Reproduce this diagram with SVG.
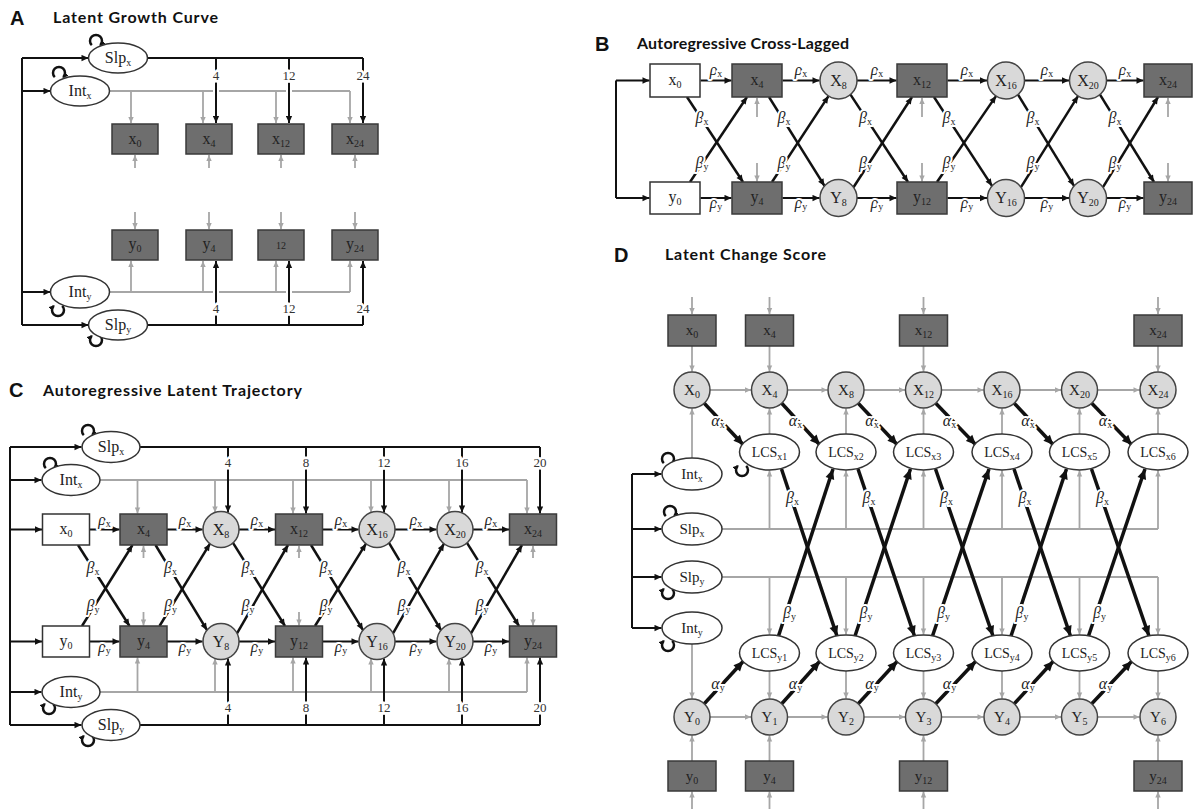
<svg xmlns="http://www.w3.org/2000/svg" width="1194" height="809" viewBox="0 0 1194 809">
<defs>
<style>
.box{fill:#6e6e6e;stroke:#3a3a3a;stroke-width:1.5}
.wbox{fill:#fff;stroke:#333;stroke-width:1.5}
.cir{fill:#d9d9d9;stroke:#444;stroke-width:1.5}
.ell{fill:#fff;stroke:#333;stroke-width:1.5}
.t{font-family:"Liberation Serif","DejaVu Serif",serif;font-size:16px;fill:#222;text-anchor:middle}
.td{font-size:15px}
.tl{font-size:14px}
.s{font-size:10px}
.blk{fill:none;stroke:#111;stroke-width:2}
.bk{fill:none;stroke:#111;stroke-width:2.5}
.thk{fill:none;stroke:#111;stroke-width:3.5}
.gry{fill:none;stroke:#a6a6a6;stroke-width:1.8}
.gap{fill:none;stroke:#fff;stroke-width:6}
.loop{fill:none;stroke:#111;stroke-width:2.5}
.mb{marker-end:url(#ab)}
.mg{marker-end:url(#ag)}
.mt{marker-end:url(#at)}
.ml{marker-end:url(#al)}
.g{font-family:"Liberation Serif","DejaVu Serif",serif;font-style:italic;font-size:16px;fill:#222;text-anchor:middle;stroke:#fff;stroke-width:4px;paint-order:stroke;stroke-linejoin:round}
.gs{font-style:normal;font-size:10px}
.n{font-family:"Liberation Serif","DejaVu Serif",serif;font-size:13px;fill:#333;text-anchor:middle;stroke:#fff;stroke-width:5px;paint-order:stroke}
.h{font-family:Lato,"Liberation Sans",sans-serif;font-weight:bold;font-size:16px;fill:#111}
.hl{font-family:"Liberation Sans",Arial,sans-serif;font-weight:bold;font-size:20px;fill:#111}
</style>
<marker id="ab" viewBox="0 0 10 10" refX="10" refY="5" markerWidth="8" markerHeight="7" markerUnits="userSpaceOnUse" orient="auto"><path d="M0,0.5L10,5L0,9.5z" fill="#111"/></marker>
<marker id="ag" viewBox="0 0 10 10" refX="10" refY="5" markerWidth="7" markerHeight="6" markerUnits="userSpaceOnUse" orient="auto"><path d="M0,0.5L10,5L0,9.5z" fill="#a6a6a6"/></marker>
<marker id="at" viewBox="0 0 10 10" refX="10" refY="5" markerWidth="11" markerHeight="10" markerUnits="userSpaceOnUse" orient="auto"><path d="M0,0.5L10,5L0,9.5z" fill="#111"/></marker>
<marker id="al" viewBox="0 0 10 10" refX="8" refY="5" markerWidth="6" markerHeight="6" markerUnits="userSpaceOnUse" orient="auto"><path d="M0,0.5L10,5L0,9.5z" fill="#111"/></marker>
</defs>
<rect width="1194" height="809" fill="#fff"/>

<g id="titles">
<text class="hl" x="10" y="25">A</text>
<text class="h" x="53" y="23" textLength="165">Latent Growth Curve</text>
<text class="hl" x="595" y="51">B</text>
<text class="h" x="637" y="49" textLength="212">Autoregressive Cross-Lagged</text>
<text class="hl" x="9" y="397">C</text>
<text class="h" x="43" y="396" textLength="259">Autoregressive Latent Trajectory</text>
<text class="hl" x="614" y="262">D</text>
<text class="h" x="665" y="260" textLength="161">Latent Change Score</text>
</g>

<!-- ================= PANEL A ================= -->
<g id="A-connectors">
<path class="blk" d="M22,58V325"/>
<path class="blk mb" d="M22,58H88.5"/>
<path class="blk mb" d="M22,91H50.5"/>
<path class="blk mb" d="M22,292H50.5"/>
<path class="blk mb" d="M22,325H88.5"/>
<path class="gry" d="M109,91H350"/>
<path class="gry mg" d="M131,91V123"/>
<path class="gry mg" d="M203,91V123"/>
<path class="gry mg" d="M276,91V123"/>
<path class="gry mg" d="M350,91V123"/>
<path class="gry mg" d="M135,168V155"/>
<path class="gry mg" d="M209,168V155"/>
<path class="gry mg" d="M281,168V155"/>
<path class="gry mg" d="M355,168V155"/>
<path class="gry mg" d="M135,212V229"/>
<path class="gry mg" d="M209,212V229"/>
<path class="gry mg" d="M281,212V229"/>
<path class="gry mg" d="M355,212V229"/>
<path class="gry" d="M109,292H350"/>
<path class="gry mg" d="M131,292V261"/>
<path class="gry mg" d="M203,292V261"/>
<path class="gry mg" d="M276,292V261"/>
<path class="gry mg" d="M350,292V261"/>
<path class="gap" d="M216,85V97M289,85V97M216,286V298M289,286V298"/>
<path class="blk" d="M147,58H363"/>
<path class="blk mb" d="M216,58V123"/>
<path class="blk mb" d="M289,58V123"/>
<path class="blk mb" d="M363,58V123"/>
<path class="blk" d="M147,325H363"/>
<path class="blk mb" d="M216,325V261"/>
<path class="blk mb" d="M289,325V261"/>
<path class="blk mb" d="M363,325V261"/>
<text class="n" x="216" y="80">4</text>
<text class="n" x="289" y="80">12</text>
<text class="n" x="363" y="80">24</text>
<text class="n" x="216" y="313">4</text>
<text class="n" x="289" y="313">12</text>
<text class="n" x="363" y="313">24</text>
<path class="loop ml" d="M91.8,45.2A6,6 0 1 1 100.2,45.2"/>
<path class="loop ml" d="M54.8,77.2A6,6 0 1 1 63.2,77.2"/>
<path class="loop ml" d="M62.2,305.8A6,6 0 1 1 53.8,305.8"/>
<path class="loop ml" d="M100.2,335.8A6,6 0 1 1 91.8,335.8"/>
</g>
<g id="A-Slpx"><ellipse class="ell" cx="118" cy="58" rx="29.5" ry="15"/><text class="t" x="118" y="63">Slp<tspan class="s" dy="3">x</tspan></text></g>
<g id="A-Intx"><ellipse class="ell" cx="80" cy="91" rx="29.5" ry="15"/><text class="t" x="80" y="96">Int<tspan class="s" dy="3">x</tspan></text></g>
<g id="A-x0"><rect class="box" x="112" y="124" width="46" height="30"/><text class="t" x="135" y="144">x<tspan class="s" dy="3">0</tspan></text></g>
<g id="A-x4"><rect class="box" x="186" y="124" width="46" height="30"/><text class="t" x="209" y="144">x<tspan class="s" dy="3">4</tspan></text></g>
<g id="A-x12"><rect class="box" x="258" y="124" width="46" height="30"/><text class="t" x="281" y="144">x<tspan class="s" dy="3">12</tspan></text></g>
<g id="A-x24"><rect class="box" x="332" y="124" width="46" height="30"/><text class="t" x="355" y="144">x<tspan class="s" dy="3">24</tspan></text></g>
<g id="A-y0"><rect class="box" x="112" y="230" width="46" height="30"/><text class="t" x="135" y="249">y<tspan class="s" dy="3">0</tspan></text></g>
<g id="A-y4"><rect class="box" x="186" y="230" width="46" height="30"/><text class="t" x="209" y="249">y<tspan class="s" dy="3">4</tspan></text></g>
<g id="A-y12"><rect class="box" x="258" y="230" width="46" height="30"/><text class="t s" x="281" y="249">12</text></g>
<g id="A-y24"><rect class="box" x="332" y="230" width="46" height="30"/><text class="t" x="355" y="249">y<tspan class="s" dy="3">24</tspan></text></g>
<g id="A-Inty"><ellipse class="ell" cx="80" cy="292" rx="29.5" ry="16"/><text class="t" x="80" y="297">Int<tspan class="s" dy="3">y</tspan></text></g>
<g id="A-Slpy"><ellipse class="ell" cx="118" cy="325" rx="29.5" ry="15"/><text class="t" x="118" y="330">Slp<tspan class="s" dy="3">y</tspan></text></g>

<!-- ================= PANEL B ================= -->
<g id="B-connectors">
<path class="blk" d="M616,80.5V198"/>
<path class="blk mb" d="M616,80.5H649.5"/>
<path class="blk mb" d="M616,198H649.5"/>
<path class="blk mb" d="M700.5,80.5H731.5"/>
<path class="blk mb" d="M782.5,80.5H819.5"/>
<path class="blk mb" d="M857,80.5H896.5"/>
<path class="blk mb" d="M947.5,80.5H987"/>
<path class="blk mb" d="M1024.5,80.5H1069"/>
<path class="blk mb" d="M1106.5,80.5H1143.5"/>
<path class="blk mb" d="M700.5,198H731.5"/>
<path class="blk mb" d="M782.5,198H819.5"/>
<path class="blk mb" d="M857,198H896.5"/>
<path class="blk mb" d="M947.5,198H987"/>
<path class="blk mb" d="M1024.5,198H1069"/>
<path class="blk mb" d="M1106.5,198H1143.5"/>
<path class="gry mg" d="M757,117V98"/>
<path class="gry mg" d="M922,117V98"/>
<path class="gry mg" d="M1168,117V98"/>
<path class="gry mg" d="M757,163V181.5"/>
<path class="gry mg" d="M922,163V181.5"/>
<path class="gry mg" d="M1168,163V181.5"/>
<path class="bk mb" d="M687,97L743,182"/>
<path class="bk mb" d="M769,97L824.5,185.9"/>
<path class="bk mb" d="M850.5,94.6L908,182"/>
<path class="bk mb" d="M934,97L992,185.9"/>
<path class="bk mb" d="M1018,94.6L1074,185.9"/>
<path class="bk mb" d="M1100,94.6L1154,182"/>
<path class="bk mb" d="M690,182L747,97"/>
<path class="bk mb" d="M772,182L828.5,96.1"/>
<path class="bk mb" d="M853.5,187.2L912,97"/>
<path class="bk mb" d="M937,182L996,96.1"/>
<path class="bk mb" d="M1021,187.2L1078,96.1"/>
<path class="bk mb" d="M1103,187.2L1158,97"/>
<text class="g" x="716" y="75">ρ<tspan class="gs" dy="2">x</tspan></text>
<text class="g" x="801" y="75">ρ<tspan class="gs" dy="2">x</tspan></text>
<text class="g" x="877" y="75">ρ<tspan class="gs" dy="2">x</tspan></text>
<text class="g" x="967" y="75">ρ<tspan class="gs" dy="2">x</tspan></text>
<text class="g" x="1047" y="75">ρ<tspan class="gs" dy="2">x</tspan></text>
<text class="g" x="1125" y="75">ρ<tspan class="gs" dy="2">x</tspan></text>
<text class="g" x="716" y="208">ρ<tspan class="gs" dy="2">y</tspan></text>
<text class="g" x="801" y="208">ρ<tspan class="gs" dy="2">y</tspan></text>
<text class="g" x="877" y="208">ρ<tspan class="gs" dy="2">y</tspan></text>
<text class="g" x="967" y="208">ρ<tspan class="gs" dy="2">y</tspan></text>
<text class="g" x="1047" y="208">ρ<tspan class="gs" dy="2">y</tspan></text>
<text class="g" x="1125" y="208">ρ<tspan class="gs" dy="2">y</tspan></text>
<text class="g" x="702" y="123">β<tspan class="gs" dy="2">x</tspan></text>
<text class="g" x="784" y="123">β<tspan class="gs" dy="2">x</tspan></text>
<text class="g" x="865.5" y="123">β<tspan class="gs" dy="2">x</tspan></text>
<text class="g" x="949" y="123">β<tspan class="gs" dy="2">x</tspan></text>
<text class="g" x="1033" y="123">β<tspan class="gs" dy="2">x</tspan></text>
<text class="g" x="1115" y="123">β<tspan class="gs" dy="2">x</tspan></text>
<text class="g" x="702" y="168">β<tspan class="gs" dy="2">y</tspan></text>
<text class="g" x="784" y="168">β<tspan class="gs" dy="2">y</tspan></text>
<text class="g" x="865.5" y="168">β<tspan class="gs" dy="2">y</tspan></text>
<text class="g" x="949" y="168">β<tspan class="gs" dy="2">y</tspan></text>
<text class="g" x="1033" y="168">β<tspan class="gs" dy="2">y</tspan></text>
<text class="g" x="1115" y="168">β<tspan class="gs" dy="2">y</tspan></text>
</g>
<g id="B-x0"><rect class="wbox" x="650" y="64" width="50" height="33"/><text class="t" x="675" y="85">x<tspan class="s" dy="3">0</tspan></text></g>
<g id="B-x4"><rect class="box" x="732" y="64" width="50" height="33"/><text class="t" x="757" y="85">x<tspan class="s" dy="3">4</tspan></text></g>
<g id="B-X8"><circle class="cir" cx="838.5" cy="80.5" r="18.5"/><text class="t" x="838.5" y="86">X<tspan class="s" dy="3">8</tspan></text></g>
<g id="B-x12"><rect class="box" x="897" y="64" width="50" height="33"/><text class="t" x="922" y="85">x<tspan class="s" dy="3">12</tspan></text></g>
<g id="B-X16"><circle class="cir" cx="1006" cy="80.5" r="18.5"/><text class="t" x="1006" y="86">X<tspan class="s" dy="3">16</tspan></text></g>
<g id="B-X20"><circle class="cir" cx="1088" cy="80.5" r="18.5"/><text class="t" x="1088" y="86">X<tspan class="s" dy="3">20</tspan></text></g>
<g id="B-x24"><rect class="box" x="1144" y="64" width="48" height="33"/><text class="t" x="1168" y="85">x<tspan class="s" dy="3">24</tspan></text></g>
<g id="B-y0"><rect class="wbox" x="650" y="182" width="50" height="32"/><text class="t" x="675" y="202">y<tspan class="s" dy="3">0</tspan></text></g>
<g id="B-y4"><rect class="box" x="732" y="182" width="50" height="32"/><text class="t" x="757" y="202">y<tspan class="s" dy="3">4</tspan></text></g>
<g id="B-Y8"><circle class="cir" cx="838.5" cy="198" r="18.5"/><text class="t" x="838.5" y="203">Y<tspan class="s" dy="3">8</tspan></text></g>
<g id="B-y12"><rect class="box" x="897" y="182" width="50" height="32"/><text class="t" x="922" y="202">y<tspan class="s" dy="3">12</tspan></text></g>
<g id="B-Y16"><circle class="cir" cx="1006" cy="198" r="18.5"/><text class="t" x="1006" y="203">Y<tspan class="s" dy="3">16</tspan></text></g>
<g id="B-Y20"><circle class="cir" cx="1088" cy="198" r="18.5"/><text class="t" x="1088" y="203">Y<tspan class="s" dy="3">20</tspan></text></g>
<g id="B-y24"><rect class="box" x="1144" y="182" width="48" height="32"/><text class="t" x="1168" y="202">y<tspan class="s" dy="3">24</tspan></text></g>

<!-- ================= PANEL C ================= -->
<g id="C-connectors">
<path class="blk" d="M10,447V725"/>
<path class="blk mb" d="M10,447H81.5"/>
<path class="blk mb" d="M10,480H41.5"/>
<path class="blk mb" d="M10,529.5H42"/>
<path class="blk mb" d="M10,641.5H42"/>
<path class="blk mb" d="M10,692H41.5"/>
<path class="blk mb" d="M10,725H81.5"/>
<path class="gry" d="M100,480H527"/>
<path class="gry mg" d="M137.5,480V513.5"/>
<path class="gry mg" d="M215,480V512.5"/>
<path class="gry mg" d="M293,480V513.5"/>
<path class="gry mg" d="M371,480V512.5"/>
<path class="gry mg" d="M449,480V512.5"/>
<path class="gry mg" d="M527,480V513.5"/>
<path class="gry" d="M100,692H527"/>
<path class="gry mg" d="M137.5,692V657.5"/>
<path class="gry mg" d="M215,692V658.5"/>
<path class="gry mg" d="M293,692V657.5"/>
<path class="gry mg" d="M371,692V658.5"/>
<path class="gry mg" d="M449,692V658.5"/>
<path class="gry mg" d="M527,692V657.5"/>
<path class="gry mg" d="M143.5,558V546"/>
<path class="gry mg" d="M299,558V546"/>
<path class="gry mg" d="M533,558V546"/>
<path class="gry mg" d="M143.5,612V625.5"/>
<path class="gry mg" d="M299,612V625.5"/>
<path class="gry mg" d="M533,612V625.5"/>
<path class="blk" d="M140,447H540"/>
<path class="blk mb" d="M228,447V512.5"/>
<path class="blk mb" d="M306,447V513.5"/>
<path class="blk mb" d="M384,447V512.5"/>
<path class="blk mb" d="M462,447V512.5"/>
<path class="blk mb" d="M540,447V513.5"/>
<path class="blk" d="M140,725H540"/>
<path class="blk mb" d="M228,725V658.5"/>
<path class="blk mb" d="M306,725V657.5"/>
<path class="blk mb" d="M384,725V658.5"/>
<path class="blk mb" d="M462,725V658.5"/>
<path class="blk mb" d="M540,725V657.5"/>
<text class="n" x="228" y="467">4</text>
<text class="n" x="306" y="467">8</text>
<text class="n" x="384" y="467">12</text>
<text class="n" x="462" y="467">16</text>
<text class="n" x="540" y="467">20</text>
<text class="n" x="228" y="712">4</text>
<text class="n" x="306" y="712">8</text>
<text class="n" x="384" y="712">12</text>
<text class="n" x="462" y="712">16</text>
<text class="n" x="540" y="712">20</text>
<path class="blk mb" d="M89.5,529.5H119.5"/>
<path class="blk mb" d="M167,529.5H202.5"/>
<path class="blk mb" d="M239,529.5H275"/>
<path class="blk mb" d="M322.5,529.5H358.5"/>
<path class="blk mb" d="M395,529.5H436.5"/>
<path class="blk mb" d="M473,529.5H509"/>
<path class="blk mb" d="M89.5,641.5H119.5"/>
<path class="blk mb" d="M167,641.5H202.5"/>
<path class="blk mb" d="M239,641.5H275"/>
<path class="blk mb" d="M322.5,641.5H358.5"/>
<path class="blk mb" d="M395,641.5H436.5"/>
<path class="blk mb" d="M473,641.5H509"/>
<path class="bk mb" d="M78,545L129.5,626"/>
<path class="bk mb" d="M155.5,545L207,630.2"/>
<path class="bk mb" d="M233,542.9L285,626"/>
<path class="bk mb" d="M311,545L363,630.2"/>
<path class="bk mb" d="M389,542.9L441,630.2"/>
<path class="bk mb" d="M467,542.9L519,626"/>
<path class="bk mb" d="M82,626L132.5,545"/>
<path class="bk mb" d="M159.5,626L210,543.7"/>
<path class="bk mb" d="M237,633.3L288,545"/>
<path class="bk mb" d="M315,626L366,543.7"/>
<path class="bk mb" d="M393,633.3L444,543.7"/>
<path class="bk mb" d="M471,633.3L522,545"/>
<text class="g" x="104.5" y="525">ρ<tspan class="gs" dy="2">x</tspan></text>
<text class="g" x="185" y="525">ρ<tspan class="gs" dy="2">x</tspan></text>
<text class="g" x="257" y="525">ρ<tspan class="gs" dy="2">x</tspan></text>
<text class="g" x="341" y="525">ρ<tspan class="gs" dy="2">x</tspan></text>
<text class="g" x="416" y="525">ρ<tspan class="gs" dy="2">x</tspan></text>
<text class="g" x="491" y="525">ρ<tspan class="gs" dy="2">x</tspan></text>
<text class="g" x="104.5" y="652">ρ<tspan class="gs" dy="2">y</tspan></text>
<text class="g" x="185" y="652">ρ<tspan class="gs" dy="2">y</tspan></text>
<text class="g" x="257" y="652">ρ<tspan class="gs" dy="2">y</tspan></text>
<text class="g" x="341" y="652">ρ<tspan class="gs" dy="2">y</tspan></text>
<text class="g" x="416" y="652">ρ<tspan class="gs" dy="2">y</tspan></text>
<text class="g" x="491" y="652">ρ<tspan class="gs" dy="2">y</tspan></text>
<text class="g" x="93" y="573">β<tspan class="gs" dy="2">x</tspan></text>
<text class="g" x="170.5" y="573">β<tspan class="gs" dy="2">x</tspan></text>
<text class="g" x="248" y="573">β<tspan class="gs" dy="2">x</tspan></text>
<text class="g" x="326" y="573">β<tspan class="gs" dy="2">x</tspan></text>
<text class="g" x="404" y="573">β<tspan class="gs" dy="2">x</tspan></text>
<text class="g" x="482" y="573">β<tspan class="gs" dy="2">x</tspan></text>
<text class="g" x="93" y="611">β<tspan class="gs" dy="2">y</tspan></text>
<text class="g" x="170.5" y="611">β<tspan class="gs" dy="2">y</tspan></text>
<text class="g" x="248" y="611">β<tspan class="gs" dy="2">y</tspan></text>
<text class="g" x="326" y="611">β<tspan class="gs" dy="2">y</tspan></text>
<text class="g" x="404" y="611">β<tspan class="gs" dy="2">y</tspan></text>
<text class="g" x="482" y="611">β<tspan class="gs" dy="2">y</tspan></text>
<path class="loop ml" d="M83.8,435.2A6,6 0 1 1 92.2,435.2"/>
<path class="loop ml" d="M45.8,468.2A6,6 0 1 1 54.2,468.2"/>
<path class="loop ml" d="M53.2,703.8A6,6 0 1 1 44.8,703.8"/>
<path class="loop ml" d="M92.2,735.8A6,6 0 1 1 83.8,735.8"/>
</g>
<g id="C-Slpx"><ellipse class="ell" cx="111" cy="447" rx="29" ry="15.5"/><text class="t" x="111" y="452">Slp<tspan class="s" dy="3">x</tspan></text></g>
<g id="C-Intx"><ellipse class="ell" cx="71" cy="480" rx="29" ry="15.5"/><text class="t" x="71" y="485">Int<tspan class="s" dy="3">x</tspan></text></g>
<g id="C-x0"><rect class="wbox" x="42.5" y="514" width="47" height="31"/><text class="t" x="66" y="534">x<tspan class="s" dy="3">0</tspan></text></g>
<g id="C-x4"><rect class="box" x="120" y="514" width="47" height="31"/><text class="t" x="143.5" y="534">x<tspan class="s" dy="3">4</tspan></text></g>
<g id="C-X8"><circle class="cir" cx="221" cy="529.5" r="18"/><text class="t" x="221" y="535">X<tspan class="s" dy="3">8</tspan></text></g>
<g id="C-x12"><rect class="box" x="275.5" y="514" width="47" height="31"/><text class="t" x="299" y="534">x<tspan class="s" dy="3">12</tspan></text></g>
<g id="C-X16"><circle class="cir" cx="377" cy="529.5" r="18"/><text class="t" x="377" y="535">X<tspan class="s" dy="3">16</tspan></text></g>
<g id="C-X20"><circle class="cir" cx="455" cy="529.5" r="18"/><text class="t" x="455" y="535">X<tspan class="s" dy="3">20</tspan></text></g>
<g id="C-x24"><rect class="box" x="509.5" y="514" width="47" height="31"/><text class="t" x="533" y="534">x<tspan class="s" dy="3">24</tspan></text></g>
<g id="C-y0"><rect class="wbox" x="42.5" y="626" width="47" height="31"/><text class="t" x="66" y="646">y<tspan class="s" dy="3">0</tspan></text></g>
<g id="C-y4"><rect class="box" x="120" y="626" width="47" height="31"/><text class="t" x="143.5" y="646">y<tspan class="s" dy="3">4</tspan></text></g>
<g id="C-Y8"><circle class="cir" cx="221" cy="641.5" r="18"/><text class="t" x="221" y="647">Y<tspan class="s" dy="3">8</tspan></text></g>
<g id="C-y12"><rect class="box" x="275.5" y="626" width="47" height="31"/><text class="t" x="299" y="646">y<tspan class="s" dy="3">12</tspan></text></g>
<g id="C-Y16"><circle class="cir" cx="377" cy="641.5" r="18"/><text class="t" x="377" y="647">Y<tspan class="s" dy="3">16</tspan></text></g>
<g id="C-Y20"><circle class="cir" cx="455" cy="641.5" r="18"/><text class="t" x="455" y="647">Y<tspan class="s" dy="3">20</tspan></text></g>
<g id="C-y24"><rect class="box" x="509.5" y="626" width="47" height="31"/><text class="t" x="533" y="646">y<tspan class="s" dy="3">24</tspan></text></g>
<g id="C-Inty"><ellipse class="ell" cx="71" cy="692" rx="29" ry="15.5"/><text class="t" x="71" y="697">Int<tspan class="s" dy="3">y</tspan></text></g>
<g id="C-Slpy"><ellipse class="ell" cx="111" cy="725" rx="29" ry="15.5"/><text class="t" x="111" y="730">Slp<tspan class="s" dy="3">y</tspan></text></g>

<!-- ================= PANEL D ================= -->
<g id="D-connectors">
<path class="gry mg" d="M692,297V314"/>
<path class="gry mg" d="M769.5,297V314"/>
<path class="gry mg" d="M923.5,297V314"/>
<path class="gry mg" d="M1158,297V314"/>
<path class="gry mg" d="M692,346V371.5"/>
<path class="gry mg" d="M769.5,346V371.5"/>
<path class="gry mg" d="M923.5,346V371.5"/>
<path class="gry mg" d="M1158,346V371.5"/>
<path class="gry mg" d="M710,390H751"/>
<path class="gry mg" d="M787.5,390H827.5"/>
<path class="gry mg" d="M864,390H905"/>
<path class="gry mg" d="M941.5,390H983.5"/>
<path class="gry mg" d="M1020,390H1061"/>
<path class="gry mg" d="M1097.5,390H1139.5"/>
<path class="gry mg" d="M692,458V408.5"/>
<path class="gry mg" d="M769.5,434V408.5"/>
<path class="gry mg" d="M846,434V408.5"/>
<path class="gry mg" d="M923.5,434V408.5"/>
<path class="gry mg" d="M1002,434V408.5"/>
<path class="gry mg" d="M1079.5,434V408.5"/>
<path class="gry mg" d="M1158,434V408.5"/>
<path class="gry" d="M722,529H1158"/>
<path class="gry mg" d="M769.5,529V470.5"/>
<path class="gry mg" d="M846,529V470.5"/>
<path class="gry mg" d="M923.5,529V470.5"/>
<path class="gry mg" d="M1002,529V470.5"/>
<path class="gry mg" d="M1079.5,529V470.5"/>
<path class="gry mg" d="M1158,529V470.5"/>
<path class="gry" d="M722,577H1158"/>
<path class="gry mg" d="M769.5,577V634.5"/>
<path class="gry mg" d="M846,577V634.5"/>
<path class="gry mg" d="M923.5,577V634.5"/>
<path class="gry mg" d="M1002,577V634.5"/>
<path class="gry mg" d="M1079.5,577V634.5"/>
<path class="gry mg" d="M1158,577V634.5"/>
<path class="gry mg" d="M692,644V698.5"/>
<path class="gry mg" d="M769.5,671V698.5"/>
<path class="gry mg" d="M846,671V698.5"/>
<path class="gry mg" d="M923.5,671V698.5"/>
<path class="gry mg" d="M1002,671V698.5"/>
<path class="gry mg" d="M1079.5,671V698.5"/>
<path class="gry mg" d="M1158,671V698.5"/>
<path class="gry mg" d="M710,717H751"/>
<path class="gry mg" d="M787.5,717H827.5"/>
<path class="gry mg" d="M864,717H905"/>
<path class="gry mg" d="M941.5,717H983.5"/>
<path class="gry mg" d="M1020,717H1061"/>
<path class="gry mg" d="M1097.5,717H1139.5"/>
<path class="gry mg" d="M692,761V735.5"/>
<path class="gry mg" d="M769.5,761V735.5"/>
<path class="gry mg" d="M923.5,761V735.5"/>
<path class="gry mg" d="M1158,761V735.5"/>
<path class="gry mg" d="M692,809V791.5"/>
<path class="gry mg" d="M769.5,809V791.5"/>
<path class="gry mg" d="M923.5,809V791.5"/>
<path class="gry mg" d="M1158,809V791.5"/>
<path class="blk" d="M632,474V628"/>
<path class="blk mb" d="M632,474H661.5"/>
<path class="blk mb" d="M632,529H661.5"/>
<path class="blk mb" d="M632,577H661.5"/>
<path class="blk mb" d="M632,628H661.5"/>
<path class="thk mt" d="M704,403L743.5,445"/>
<path class="thk mt" d="M781.5,403L820,445"/>
<path class="thk mt" d="M858,403L897.5,445"/>
<path class="thk mt" d="M935.5,403L976,445"/>
<path class="thk mt" d="M1014,403L1053.5,445"/>
<path class="thk mt" d="M1091.5,403L1132,445"/>
<path class="thk mt" d="M704,704L743.5,661"/>
<path class="thk mt" d="M781.5,704L820,661"/>
<path class="thk mt" d="M858,704L897.5,661"/>
<path class="thk mt" d="M935.5,704L976,661"/>
<path class="thk mt" d="M1014,704L1053.5,661"/>
<path class="thk mt" d="M1091.5,704L1132,661"/>
<path class="thk mt" d="M781.5,469L837,636"/>
<path class="thk mt" d="M858,469L914.5,636"/>
<path class="thk mt" d="M935.5,469L993,636"/>
<path class="thk mt" d="M1014,469L1070.5,636"/>
<path class="thk mt" d="M1091.5,469L1149,636"/>
<path class="thk mt" d="M778.5,636L833,469"/>
<path class="thk mt" d="M855,636L910.5,469"/>
<path class="thk mt" d="M932.5,636L989,469"/>
<path class="thk mt" d="M1011,636L1066.5,469"/>
<path class="thk mt" d="M1088.5,636L1145,469"/>
<text class="g" x="718" y="426">α<tspan class="gs" dy="2">x</tspan></text>
<text class="g" x="795.5" y="426">α<tspan class="gs" dy="2">x</tspan></text>
<text class="g" x="872" y="426">α<tspan class="gs" dy="2">x</tspan></text>
<text class="g" x="949.5" y="426">α<tspan class="gs" dy="2">x</tspan></text>
<text class="g" x="1028" y="426">α<tspan class="gs" dy="2">x</tspan></text>
<text class="g" x="1105.5" y="426">α<tspan class="gs" dy="2">x</tspan></text>
<text class="g" x="718" y="689">α<tspan class="gs" dy="2">y</tspan></text>
<text class="g" x="795.5" y="689">α<tspan class="gs" dy="2">y</tspan></text>
<text class="g" x="872" y="689">α<tspan class="gs" dy="2">y</tspan></text>
<text class="g" x="949.5" y="689">α<tspan class="gs" dy="2">y</tspan></text>
<text class="g" x="1028" y="689">α<tspan class="gs" dy="2">y</tspan></text>
<text class="g" x="1105.5" y="689">α<tspan class="gs" dy="2">y</tspan></text>
<text class="g" x="792.5" y="503">β<tspan class="gs" dy="2">x</tspan></text>
<text class="g" x="869" y="503">β<tspan class="gs" dy="2">x</tspan></text>
<text class="g" x="946.5" y="503">β<tspan class="gs" dy="2">x</tspan></text>
<text class="g" x="1025" y="503">β<tspan class="gs" dy="2">x</tspan></text>
<text class="g" x="1102.5" y="503">β<tspan class="gs" dy="2">x</tspan></text>
<text class="g" x="789.5" y="618">β<tspan class="gs" dy="2">y</tspan></text>
<text class="g" x="866" y="618">β<tspan class="gs" dy="2">y</tspan></text>
<text class="g" x="943.5" y="618">β<tspan class="gs" dy="2">y</tspan></text>
<text class="g" x="1022" y="618">β<tspan class="gs" dy="2">y</tspan></text>
<text class="g" x="1099.5" y="618">β<tspan class="gs" dy="2">y</tspan></text>
<path class="loop ml" d="M663.8,463.2A6,6 0 1 1 672.2,463.2"/>
<path class="loop ml" d="M665.8,516.2A6,6 0 1 1 674.2,516.2"/>
<path class="loop ml" d="M672.2,588.8A6,6 0 1 1 663.8,588.8"/>
<path class="loop ml" d="M672.2,640.8A6,6 0 1 1 663.8,640.8"/>
<path class="loop ml" d="M746.2,465.8A6,6 0 1 1 737.8,465.8"/>
</g>
<g id="D-x0"><rect class="box" x="668" y="315" width="48" height="31"/><text class="t td" x="692" y="335">x<tspan class="s" dy="3">0</tspan></text></g>
<g id="D-x4"><rect class="box" x="745.5" y="315" width="48" height="31"/><text class="t td" x="769.5" y="335">x<tspan class="s" dy="3">4</tspan></text></g>
<g id="D-x12"><rect class="box" x="899.5" y="315" width="48" height="31"/><text class="t td" x="923.5" y="335">x<tspan class="s" dy="3">12</tspan></text></g>
<g id="D-x24"><rect class="box" x="1134" y="315" width="48" height="31"/><text class="t td" x="1158" y="335">x<tspan class="s" dy="3">24</tspan></text></g>
<g id="D-X0"><circle class="cir" cx="692" cy="390" r="18"/><text class="t td" x="692" y="395">X<tspan class="s" dy="3">0</tspan></text></g>
<g id="D-X4"><circle class="cir" cx="769.5" cy="390" r="18"/><text class="t td" x="769.5" y="395">X<tspan class="s" dy="3">4</tspan></text></g>
<g id="D-X8"><circle class="cir" cx="846" cy="390" r="18"/><text class="t td" x="846" y="395">X<tspan class="s" dy="3">8</tspan></text></g>
<g id="D-X12"><circle class="cir" cx="923.5" cy="390" r="18"/><text class="t td" x="923.5" y="395">X<tspan class="s" dy="3">12</tspan></text></g>
<g id="D-X16"><circle class="cir" cx="1002" cy="390" r="18"/><text class="t td" x="1002" y="395">X<tspan class="s" dy="3">16</tspan></text></g>
<g id="D-X20"><circle class="cir" cx="1079.5" cy="390" r="18"/><text class="t td" x="1079.5" y="395">X<tspan class="s" dy="3">20</tspan></text></g>
<g id="D-X24"><circle class="cir" cx="1158" cy="390" r="18"/><text class="t td" x="1158" y="395">X<tspan class="s" dy="3">24</tspan></text></g>
<g id="D-LCSx1"><ellipse class="ell" cx="769.5" cy="452" rx="30" ry="18"/><text class="t tl" x="769.5" y="457">LCS<tspan class="s" dy="3">x1</tspan></text></g>
<g id="D-LCSx2"><ellipse class="ell" cx="846" cy="452" rx="30" ry="18"/><text class="t tl" x="846" y="457">LCS<tspan class="s" dy="3">x2</tspan></text></g>
<g id="D-LCSx3"><ellipse class="ell" cx="923.5" cy="452" rx="30" ry="18"/><text class="t tl" x="923.5" y="457">LCS<tspan class="s" dy="3">x3</tspan></text></g>
<g id="D-LCSx4"><ellipse class="ell" cx="1002" cy="452" rx="30" ry="18"/><text class="t tl" x="1002" y="457">LCS<tspan class="s" dy="3">x4</tspan></text></g>
<g id="D-LCSx5"><ellipse class="ell" cx="1079.5" cy="452" rx="30" ry="18"/><text class="t tl" x="1079.5" y="457">LCS<tspan class="s" dy="3">x5</tspan></text></g>
<g id="D-LCSx6"><ellipse class="ell" cx="1158" cy="452" rx="30" ry="18"/><text class="t tl" x="1158" y="457">LCS<tspan class="s" dy="3">x6</tspan></text></g>
<g id="D-Intx"><ellipse class="ell" cx="692" cy="474" rx="30" ry="16"/><text class="t td" x="692" y="479">Int<tspan class="s" dy="3">x</tspan></text></g>
<g id="D-Slpx"><ellipse class="ell" cx="692" cy="529" rx="30" ry="16"/><text class="t td" x="692" y="534">Slp<tspan class="s" dy="3">x</tspan></text></g>
<g id="D-Slpy"><ellipse class="ell" cx="692" cy="577" rx="30" ry="16"/><text class="t td" x="692" y="582">Slp<tspan class="s" dy="3">y</tspan></text></g>
<g id="D-Inty"><ellipse class="ell" cx="692" cy="628" rx="30" ry="16"/><text class="t td" x="692" y="633">Int<tspan class="s" dy="3">y</tspan></text></g>
<g id="D-LCSy1"><ellipse class="ell" cx="769.5" cy="653" rx="30" ry="18"/><text class="t tl" x="769.5" y="658">LCS<tspan class="s" dy="3">y1</tspan></text></g>
<g id="D-LCSy2"><ellipse class="ell" cx="846" cy="653" rx="30" ry="18"/><text class="t tl" x="846" y="658">LCS<tspan class="s" dy="3">y2</tspan></text></g>
<g id="D-LCSy3"><ellipse class="ell" cx="923.5" cy="653" rx="30" ry="18"/><text class="t tl" x="923.5" y="658">LCS<tspan class="s" dy="3">y3</tspan></text></g>
<g id="D-LCSy4"><ellipse class="ell" cx="1002" cy="653" rx="30" ry="18"/><text class="t tl" x="1002" y="658">LCS<tspan class="s" dy="3">y4</tspan></text></g>
<g id="D-LCSy5"><ellipse class="ell" cx="1079.5" cy="653" rx="30" ry="18"/><text class="t tl" x="1079.5" y="658">LCS<tspan class="s" dy="3">y5</tspan></text></g>
<g id="D-LCSy6"><ellipse class="ell" cx="1158" cy="653" rx="30" ry="18"/><text class="t tl" x="1158" y="658">LCS<tspan class="s" dy="3">y6</tspan></text></g>
<g id="D-Y0"><circle class="cir" cx="692" cy="717" r="18"/><text class="t td" x="692" y="722">Y<tspan class="s" dy="3">0</tspan></text></g>
<g id="D-Y1"><circle class="cir" cx="769.5" cy="717" r="18"/><text class="t td" x="769.5" y="722">Y<tspan class="s" dy="3">1</tspan></text></g>
<g id="D-Y2"><circle class="cir" cx="846" cy="717" r="18"/><text class="t td" x="846" y="722">Y<tspan class="s" dy="3">2</tspan></text></g>
<g id="D-Y3"><circle class="cir" cx="923.5" cy="717" r="18"/><text class="t td" x="923.5" y="722">Y<tspan class="s" dy="3">3</tspan></text></g>
<g id="D-Y4"><circle class="cir" cx="1002" cy="717" r="18"/><text class="t td" x="1002" y="722">Y<tspan class="s" dy="3">4</tspan></text></g>
<g id="D-Y5"><circle class="cir" cx="1079.5" cy="717" r="18"/><text class="t td" x="1079.5" y="722">Y<tspan class="s" dy="3">5</tspan></text></g>
<g id="D-Y6"><circle class="cir" cx="1158" cy="717" r="18"/><text class="t td" x="1158" y="722">Y<tspan class="s" dy="3">6</tspan></text></g>
<g id="D-y0"><rect class="box" x="668" y="761" width="48" height="30"/><text class="t td" x="692" y="780.5">y<tspan class="s" dy="3">0</tspan></text></g>
<g id="D-y4"><rect class="box" x="745.5" y="761" width="48" height="30"/><text class="t td" x="769.5" y="780.5">y<tspan class="s" dy="3">4</tspan></text></g>
<g id="D-y12"><rect class="box" x="899.5" y="761" width="48" height="30"/><text class="t td" x="923.5" y="780.5">y<tspan class="s" dy="3">12</tspan></text></g>
<g id="D-y24"><rect class="box" x="1134" y="761" width="48" height="30"/><text class="t td" x="1158" y="780.5">y<tspan class="s" dy="3">24</tspan></text></g>
</svg>
